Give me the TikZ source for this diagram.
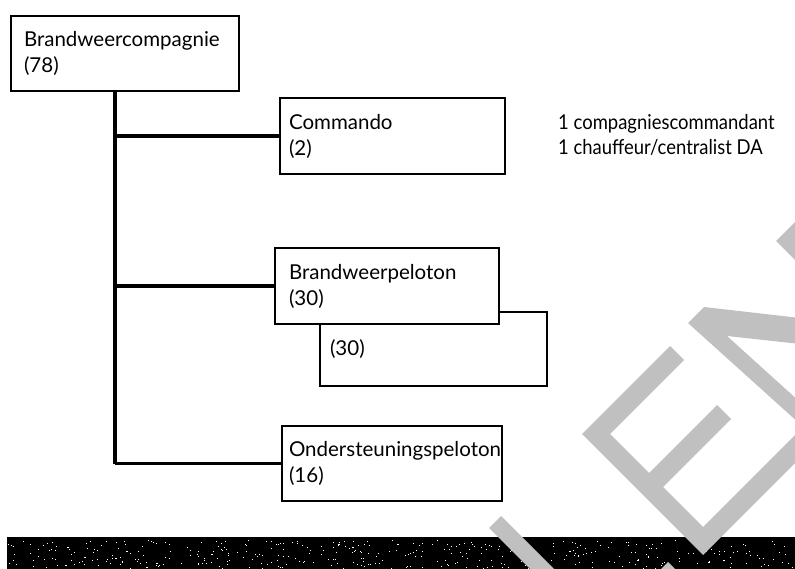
\documentclass[tikz,border=0pt]{standalone}
\usepackage{fontspec}
\setmainfont{Lato}
\definecolor{wm}{RGB}{192,192,192}
\begin{document}
\begin{tikzpicture}[x=1pt,y=-1pt,
  txt/.style={font=\fontsize{20.5}{26}\selectfont},
  box/.style={txt,draw=black,line width=2pt,fill=white,rectangle,anchor=north west,align=left,inner ysep=0pt},
  conn/.style={line width=3.2pt},
  lbl/.style={txt,anchor=base west,inner sep=0pt}]
\useasboundingbox (0,0) rectangle (795,569);
% boxes
\node[box,inner xsep=13pt,text width=202pt,minimum width=228pt,minimum height=75pt] (b1) at (10,15) {Brandweercompagnie\\(78)};
\node[box,inner xsep=9pt,text width=207pt,minimum width=225pt,minimum height=76pt] (b2) at (279,97) {Commando\\(2)};
\node[box,inner xsep=10pt,text width=207pt,minimum width=227pt,minimum height=74pt] (b3x) at (319,311) {(30)};
\node[box,inner xsep=14pt,text width=196pt,minimum width=224pt,minimum height=76pt] (b3) at (274,247) {Brandweerpeloton\\(30)};
\node[box,inner xsep=7pt,text width=206pt,minimum width=220pt,minimum height=75pt] (b4) at (281,425) {Ondersteuningspeloton\\(16)};
% side notes
\node[lbl] (n1) at (558,130) {\scalebox{0.9}[1]{1 compagniescommandant}};
\node[lbl] (n2) at (558,155) {\scalebox{0.9}[1]{1 chauffeur/centralist DA}};
% connectors
\coordinate (trunk) at (115,90);
\draw[conn] (b1.south -| trunk) -- (b4.west -| trunk);
\draw[conn] (b2.west -| trunk) -- (b2.west);
\draw[conn] (b3.west -| trunk) -- (b3.west);
\draw[conn] (b4.west -| trunk) -- (b4.west);
% bottom band
\fill[black] (7,537) rectangle (795,569);
\pgfmathsetseed{7}
\foreach \i in {1,...,420}{
  \pgfmathsetmacro{\px}{8+786*rnd}
  \pgfmathsetmacro{\py}{540+28*rnd}
  \fill[white] (\px,\py) rectangle ++(1,1);
}
% watermark
\begin{scope}
\clip (0,0) rectangle (795,569);
\fill[wm] (582,434) -- (670,346) -- (684,360) -- (610,434) -- (649,473) -- (717,405) -- (731,419) -- (663,487) -- (703,527) -- (800,430) -- (800,458) -- (703,555) -- cycle;
\fill[wm] (688,323) -- (704,307) -- (800,318) -- (800,344) -- (727,336) -- (800,402) -- (800,424) -- cycle;
\fill[wm] (776,241) -- (800,217) -- (800,265) -- cycle;
\fill[wm] (501,516) -- (489,528) -- (535,574) -- (559,574) -- cycle;
\fill[wm] (655,575) -- (668,562) -- (681,575) -- cycle;
\end{scope}
\end{tikzpicture}
\end{document}
